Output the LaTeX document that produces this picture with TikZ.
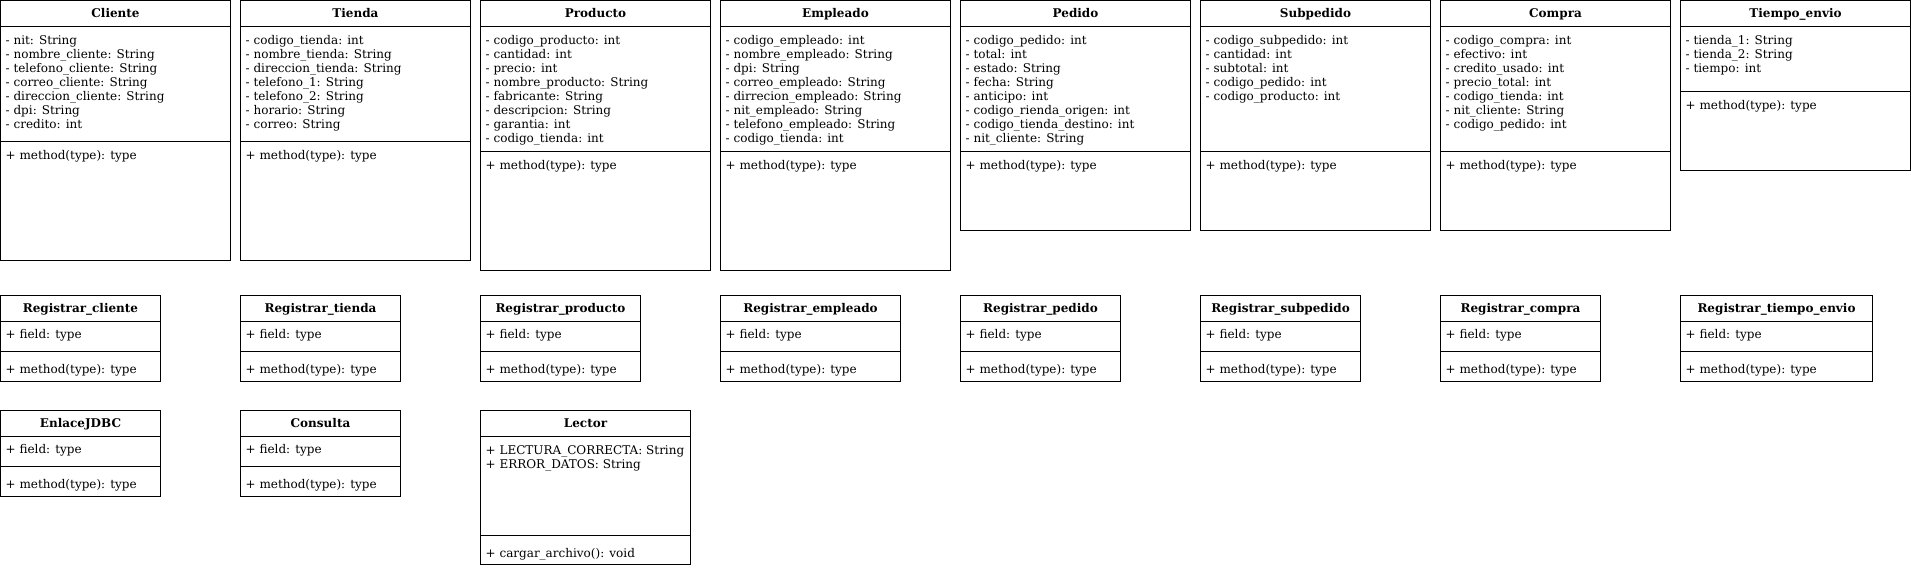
\documentclass[tikz,border=0pt]{standalone}
\usepackage{fontspec}
\setmainfont{DejaVu Serif}
\tikzset{
  cbox/.style={draw=black, line width=1pt, fill=white, inner sep=0pt, outer sep=0pt, anchor=north west},
  ctitle/.style={font=\fontsize{12}{14}\selectfont\bfseries, inner sep=0pt, anchor=base},
  ctext/.style={font=\fontsize{12}{14}\selectfont, inner sep=0pt, anchor=base west, align=left},
}
\def\aoff{18pt}
\def\moff{18pt}
% #1 name, #2 x, #3 y, #4 width, #5 attr height, #6 method height, #7 title, #8 attrs, #9 methods
\newcommand\umlclass[9]{%
  \node[cbox, minimum width=#4, minimum height=26] (#1) at (#2,#3) {};
  \node[cbox, minimum width=#4, minimum height=#5] (#1-a) at (#1.south west) {};
  \node[cbox, minimum width=#4, minimum height=#6] (#1-m) at (#1-a.south west) {};
  \node[ctitle] (#1-t) at ([yshift=-17pt]#1.north) {#7};
  \node[ctext] (#1-at) at ([xshift=5pt,yshift=-\aoff]#1-a.north west) {\begin{tabular}[t]{@{}l@{}}#8\end{tabular}};
  \node[ctext] (#1-mt) at ([xshift=5pt,yshift=-\moff]#1-m.north west) {\begin{tabular}[t]{@{}l@{}}#9\end{tabular}};
}
\begin{document}
\begin{tikzpicture}[x=1pt,y=-1pt]
\fill[white] (0,0) rectangle (1911,568);
\useasboundingbox (0,0) rectangle (1911,568);
% top row
\umlclass{cliente}{0.5}{0.5}{230}{115}{119}{Cliente}{- nit: String\\- nombre\_cliente: String\\- telefono\_cliente: String\\- correo\_cliente: String\\- direccion\_cliente: String\\- dpi: String\\- credito: int}{+ method(type): type}
\umlclass{tienda}{240.5}{0.5}{230}{115}{119}{Tienda}{- codigo\_tienda: int\\- nombre\_tienda: String\\- direccion\_tienda: String\\- telefono\_1: String\\- telefono\_2: String\\- horario: String\\- correo: String}{+ method(type): type}
\umlclass{producto}{480.5}{0.5}{230}{125}{119}{Producto}{- codigo\_producto: int\\- cantidad: int\\- precio: int\\- nombre\_producto: String\\- fabricante: String\\- descripcion: String\\- garantia: int\\- codigo\_tienda: int}{+ method(type): type}
\umlclass{empleado}{720.5}{0.5}{230}{125}{119}{Empleado}{- codigo\_empleado: int\\- nombre\_empleado: String\\- dpi: String\\- correo\_empleado: String\\- dirrecion\_empleado: String\\- nit\_empleado: String\\- telefono\_empleado: String\\- codigo\_tienda: int}{+ method(type): type}
\umlclass{pedido}{960.5}{0.5}{230}{125}{79}{Pedido}{- codigo\_pedido: int\\- total: int\\- estado: String\\- fecha: String\\- anticipo: int\\- codigo\_rienda\_origen: int\\- codigo\_tienda\_destino: int\\- nit\_cliente: String}{+ method(type): type}
\umlclass{subpedido}{1200.5}{0.5}{230}{125}{79}{Subpedido}{- codigo\_subpedido: int\\- cantidad: int\\- subtotal: int\\- codigo\_pedido: int\\- codigo\_producto: int}{+ method(type): type}
\umlclass{compra}{1440.5}{0.5}{230}{125}{79}{Compra}{- codigo\_compra: int\\- efectivo: int\\- credito\_usado: int\\- precio\_total: int\\- codigo\_tienda: int\\- nit\_cliente: String\\- codigo\_pedido: int}{+ method(type): type}
\umlclass{tiempo}{1680.5}{0.5}{230}{65}{79}{Tiempo\_envio}{- tienda\_1: String\\- tienda\_2: String\\- tiempo: int}{+ method(type): type}
% second row
\def\aoff{17pt}
\def\moff{22pt}
\umlclass{rcliente}{0.5}{295.5}{160}{30}{30}{Registrar\_cliente}{+ field: type}{+ method(type): type}
\umlclass{rtienda}{240.5}{295.5}{160}{30}{30}{Registrar\_tienda}{+ field: type}{+ method(type): type}
\umlclass{rproducto}{480.5}{295.5}{160}{30}{30}{Registrar\_producto}{+ field: type}{+ method(type): type}
\umlclass{rempleado}{720.5}{295.5}{180}{30}{30}{Registrar\_empleado}{+ field: type}{+ method(type): type}
\umlclass{rpedido}{960.5}{295.5}{160}{30}{30}{Registrar\_pedido}{+ field: type}{+ method(type): type}
\umlclass{rsubpedido}{1200.5}{295.5}{160}{30}{30}{Registrar\_subpedido}{+ field: type}{+ method(type): type}
\umlclass{rcompra}{1440.5}{295.5}{160}{30}{30}{Registrar\_compra}{+ field: type}{+ method(type): type}
\umlclass{rtiempo}{1680.5}{295.5}{192}{30}{30}{Registrar\_tiempo\_envio}{+ field: type}{+ method(type): type}
% third row
\umlclass{enlace}{0.5}{410.5}{160}{30}{30}{EnlaceJDBC}{+ field: type}{+ method(type): type}
\umlclass{consulta}{240.5}{410.5}{160}{30}{30}{Consulta}{+ field: type}{+ method(type): type}
\def\aoff{18pt}
\umlclass{lector}{480.5}{410.5}{210}{99}{29}{Lector}{+ LECTURA\_CORRECTA: String\\+ ERROR\_DATOS: String}{+ cargar\_archivo(): void}
\end{tikzpicture}
\end{document}
